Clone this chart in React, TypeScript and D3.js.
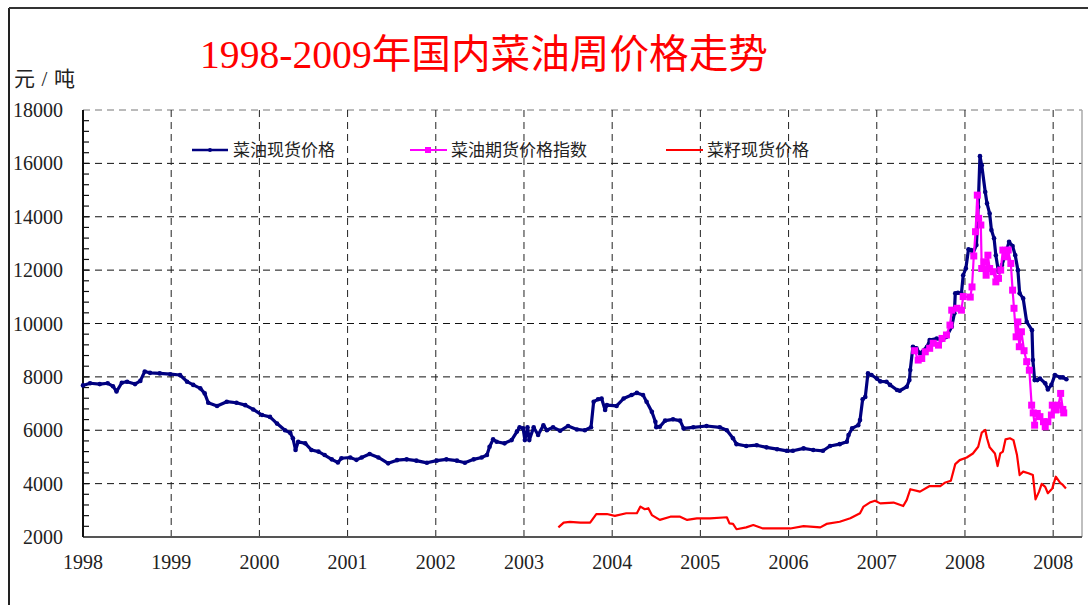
import React from 'react';
import * as d3 from 'd3';

// weekly prices, [decimal year, 元/吨]
const oilSpot: [number, number][] = [
  [1998.0, 7680], [1998.08, 7760], [1998.19, 7730], [1998.28, 7760], [1998.34, 7650], [1998.38, 7450],
  [1998.44, 7780], [1998.5, 7820], [1998.59, 7730], [1998.65, 7850], [1998.7, 8200], [1998.76, 8150],
  [1998.87, 8130], [1998.99, 8100], [1999.1, 8070], [1999.18, 7820], [1999.25, 7700], [1999.33, 7570],
  [1999.38, 7380], [1999.42, 7030], [1999.52, 6910], [1999.63, 7070], [1999.74, 7030], [1999.84, 6940],
  [1999.93, 6780], [2000.03, 6570], [2000.12, 6500], [2000.2, 6250], [2000.29, 6000], [2000.35, 5900],
  [2000.38, 5700], [2000.41, 5260], [2000.44, 5570], [2000.52, 5510], [2000.59, 5260], [2000.67, 5200],
  [2000.74, 5070], [2000.82, 4910], [2000.89, 4790], [2000.93, 4950], [2001.03, 4980], [2001.1, 4890],
  [2001.16, 4980], [2001.25, 5110], [2001.35, 4980], [2001.46, 4760], [2001.56, 4880], [2001.67, 4910],
  [2001.78, 4860], [2001.9, 4780], [2002.01, 4860], [2002.12, 4910], [2002.24, 4860], [2002.33, 4780],
  [2002.43, 4910], [2002.52, 4980], [2002.58, 5070], [2002.61, 5380], [2002.65, 5660], [2002.69, 5570],
  [2002.78, 5510], [2002.86, 5630], [2002.92, 5950], [2002.95, 6110], [2002.99, 6070], [2003.01, 5630],
  [2003.04, 6110], [2003.06, 5630], [2003.11, 6110], [2003.16, 5820], [2003.22, 6190], [2003.26, 6000],
  [2003.33, 6110], [2003.41, 5980], [2003.5, 6160], [2003.6, 6030], [2003.69, 6000], [2003.76, 6110],
  [2003.79, 7070], [2003.84, 7160], [2003.88, 7190], [2003.92, 6760], [2003.94, 6940], [2004.05, 6910],
  [2004.13, 7190], [2004.22, 7320], [2004.28, 7400], [2004.35, 7320], [2004.39, 7070], [2004.45, 6690],
  [2004.49, 6320], [2004.5, 6110], [2004.54, 6130], [2004.6, 6360], [2004.69, 6410], [2004.77, 6360],
  [2004.81, 6070], [2004.92, 6110], [2005.07, 6160], [2005.22, 6110], [2005.3, 6000], [2005.37, 5700],
  [2005.41, 5480], [2005.52, 5410], [2005.64, 5440], [2005.75, 5360], [2005.87, 5290], [2005.98, 5230],
  [2006.05, 5230], [2006.17, 5320], [2006.28, 5260], [2006.39, 5230], [2006.47, 5410], [2006.58, 5480],
  [2006.66, 5570], [2006.68, 5820], [2006.72, 6070], [2006.79, 6190], [2006.81, 6380], [2006.84, 7160],
  [2006.87, 7250], [2006.9, 8130], [2006.94, 8070], [2007.0, 7940], [2007.04, 7830], [2007.11, 7820],
  [2007.15, 7700], [2007.23, 7510], [2007.26, 7480], [2007.34, 7630], [2007.37, 7880], [2007.38, 8260],
  [2007.41, 9130], [2007.45, 9070], [2007.49, 8880], [2007.57, 9130], [2007.6, 9380], [2007.68, 9440],
  [2007.74, 9380], [2007.79, 9500], [2007.85, 9880], [2007.88, 10380], [2007.89, 11130], [2007.92, 11150],
  [2007.96, 11130], [2007.98, 11810], [2008.01, 12060], [2008.04, 12780], [2008.07, 12750], [2008.09, 12630],
  [2008.13, 12940], [2008.15, 14370], [2008.17, 16270], [2008.19, 15930], [2008.23, 14930], [2008.25, 14500],
  [2008.28, 14120], [2008.3, 13500], [2008.33, 13190], [2008.35, 12560], [2008.38, 11940], [2008.42, 12190],
  [2008.45, 12500], [2008.5, 13060], [2008.54, 12900], [2008.57, 12560], [2008.6, 12000], [2008.62, 11130],
  [2008.66, 10940], [2008.7, 10060], [2008.76, 9750], [2008.77, 8630], [2008.79, 7880], [2008.82, 7880],
  [2008.85, 7940], [2008.91, 7760], [2008.94, 7530], [2008.98, 7700], [2009.02, 8070], [2009.08, 7980],
  [2009.11, 7980], [2009.15, 7910],
];

const oilFutures: [number, number][] = [
  [2007.43, 8980], [2007.47, 8630], [2007.51, 8690], [2007.55, 8940], [2007.6, 9070], [2007.64, 9260],
  [2007.7, 9190], [2007.74, 9440], [2007.79, 9570], [2007.83, 9940], [2007.85, 10500], [2007.91, 10570],
  [2007.96, 10500], [2007.98, 11010], [2008.06, 10990], [2008.08, 11370], [2008.1, 12530], [2008.12, 13440],
  [2008.14, 14810], [2008.155, 13940], [2008.18, 13690], [2008.19, 12060], [2008.215, 12310], [2008.24, 11810],
  [2008.26, 12560], [2008.28, 12060], [2008.32, 11940], [2008.35, 11560], [2008.38, 11690], [2008.405, 12000],
  [2008.43, 12750], [2008.465, 12500], [2008.49, 12750], [2008.52, 12250], [2008.54, 11250], [2008.556, 10570],
  [2008.58, 9500], [2008.6, 10060], [2008.616, 9130], [2008.64, 9690], [2008.67, 8980], [2008.7, 8570],
  [2008.73, 8250], [2008.756, 6940], [2008.774, 6650], [2008.79, 6190], [2008.82, 6630], [2008.85, 6510],
  [2008.89, 6320], [2008.91, 6130], [2008.94, 6320], [2008.98, 6570], [2008.99, 6940], [2009.03, 6760],
  [2009.06, 6940], [2009.085, 7380], [2009.11, 6780], [2009.12, 6650],
];

const seedSpot: [number, number][] = [
  [2003.39, 2360], [2003.45, 2540], [2003.52, 2570], [2003.64, 2540], [2003.75, 2540], [2003.82, 2860],
  [2003.94, 2860], [2004.03, 2790], [2004.16, 2890], [2004.28, 2890], [2004.32, 3140], [2004.37, 3040],
  [2004.41, 3080], [2004.45, 2820], [2004.54, 2640], [2004.66, 2760], [2004.77, 2760], [2004.85, 2640],
  [2004.96, 2700], [2005.11, 2700], [2005.3, 2740], [2005.33, 2510], [2005.37, 2490], [2005.41, 2290],
  [2005.52, 2360], [2005.6, 2450], [2005.71, 2320], [2005.87, 2320], [2006.02, 2320], [2006.17, 2410],
  [2006.36, 2360], [2006.43, 2490], [2006.58, 2570], [2006.7, 2700], [2006.81, 2890], [2006.85, 3140],
  [2006.92, 3290], [2006.98, 3360], [2007.04, 3260], [2007.19, 3290], [2007.3, 3160], [2007.34, 3390],
  [2007.38, 3790], [2007.49, 3700], [2007.6, 3910], [2007.72, 3910], [2007.77, 4030], [2007.84, 4110],
  [2007.89, 4730], [2007.94, 4880], [2008.02, 4980], [2008.09, 5130], [2008.15, 5380], [2008.19, 5910],
  [2008.23, 6010], [2008.25, 5700], [2008.28, 5360], [2008.34, 5130], [2008.37, 4660], [2008.4, 5130],
  [2008.43, 5200], [2008.46, 5660], [2008.51, 5700], [2008.55, 5630], [2008.59, 5070], [2008.62, 4320],
  [2008.66, 4450], [2008.72, 4390], [2008.77, 4320], [2008.8, 3410], [2008.84, 3700], [2008.87, 3990],
  [2008.91, 3880], [2008.94, 3640], [2008.99, 3820], [2009.03, 4260], [2009.08, 4030], [2009.11, 3950],
  [2009.145, 3820],
];

const yearTicks = [1998, 1999, 2000, 2001, 2002, 2003, 2004, 2005, 2006, 2007, 2008, 2009];
const yearLabels = ['1998', '1999', '2000', '2001', '2002', '2003', '2004', '2005', '2006', '2007', '2008', '2008'];
const yTicks = [2000, 4000, 6000, 8000, 10000, 12000, 14000, 16000, 18000];

const W = 1088;
const H = 605;
const plot = { left: 83, right: 1082, top: 110, bottom: 537 };
const serif = "'Liberation Serif', 'Noto Sans CJK SC', serif";
const cjk = "'Liberation Serif', 'Noto Sans CJK SC', sans-serif";

export default function App() {
  const x = d3.scaleLinear().domain([1998, 2009.327]).range([plot.left, plot.right]);
  const y = d3.scaleLinear().domain([2000, 18000]).range([plot.bottom, plot.top]);
  const line = d3.line<[number, number]>().x(d => x(d[0])).y(d => y(d[1]));
  const minor = d3.range(2000, 18000, 400);

  return (
    <svg width={W} height={H} style={{ position: 'absolute', left: 0, top: 0, background: '#fff' }}>
      {/* outer frame */}
      <line x1={9} x2={9} y1={8} y2={H} stroke="#222" strokeWidth={2} />
      <line x1={9} x2={W} y1={8} y2={8} stroke="#333" strokeWidth={2} />

      <text x={200} y={68} fontFamily={cjk} fontSize={40} fill="#ff0000" textLength={568} lengthAdjust="spacingAndGlyphs">
        1998-2009年国内菜油周价格走势
      </text>
      <text x={14} y={86} fontFamily={cjk} fontSize={21} fill="#222" textLength={61}>元 / 吨</text>

      {/* grid */}
      {yTicks.filter(v => v > 2000).map(v => (
        <line key={'h' + v} x1={plot.left} x2={plot.right} y1={y(v)} y2={y(v)}
          stroke={v === 18000 ? '#777' : '#111'} strokeWidth={1} strokeDasharray="7,5" />
      ))}
      {yearTicks.slice(1).map(t => (
        <line key={'v' + t} x1={x(t)} x2={x(t)} y1={plot.top} y2={plot.bottom}
          stroke="#222" strokeWidth={1} strokeDasharray="7,5" />
      ))}
      <line x1={plot.right} x2={plot.right} y1={plot.top} y2={plot.bottom} stroke="#aaa" strokeWidth={1.5} />

      {/* axes */}
      {minor.map(v => (
        <line key={'m' + v} x1={plot.left} x2={plot.left + 6} y1={y(v)} y2={y(v)} stroke="#111" strokeWidth={1.2} />
      ))}
      <line x1={plot.left} x2={plot.right} y1={plot.bottom} y2={plot.bottom} stroke="#555" strokeWidth={2} />
      <line x1={plot.left} x2={plot.left} y1={plot.top} y2={plot.bottom} stroke="#111" strokeWidth={2} />

      {yTicks.map(v => (
        <text key={'yl' + v} x={63} y={y(v)} dy="0.35em" textAnchor="end" fontFamily={serif} fontSize={20} fill="#222">{v}</text>
      ))}
      {yearTicks.map((t, i) => (
        <text key={'xl' + t} x={x(t)} y={569} textAnchor="middle" fontFamily={serif} fontSize={20} fill="#222">{yearLabels[i]}</text>
      ))}

      {/* series */}
      <path d={line(seedSpot) || ''} fill="none" stroke="#ff0000" strokeWidth={2.2} strokeLinejoin="round" />
      <path d={line(oilSpot) || ''} fill="none" stroke="#000080" strokeWidth={3.2} strokeLinejoin="round" />
      {oilSpot.map((d, i) => (
        <circle key={'c' + i} cx={x(d[0])} cy={y(d[1])} r={2.3} fill="#000080" />
      ))}
      <path d={line(oilFutures) || ''} fill="none" stroke="#ff00ff" strokeWidth={2.2} />
      {oilFutures.map((d, i) => (
        <rect key={'s' + i} x={x(d[0]) - 3.5} y={y(d[1]) - 3.5} width={7} height={7} fill="#ff00ff" />
      ))}

      {/* legend */}
      <g fontFamily={cjk} fontSize={17} fill="#222">
        <line x1={192} x2={228} y1={150} y2={150} stroke="#000080" strokeWidth={2.5} />
        <circle cx={210} cy={150} r={2} fill="#000080" />
        <text x={233} y={156}>菜油现货价格</text>
        <line x1={410} x2={447} y1={150} y2={150} stroke="#ff00ff" strokeWidth={2} />
        <rect x={425} y={147} width={6} height={6} fill="#ff00ff" />
        <text x={451} y={156}>菜油期货价格指数</text>
        <line x1={666} x2={703} y1={150} y2={150} stroke="#ff0000" strokeWidth={2} />
        <text x={707} y={156}>菜籽现货价格</text>
      </g>
    </svg>
  );
}
